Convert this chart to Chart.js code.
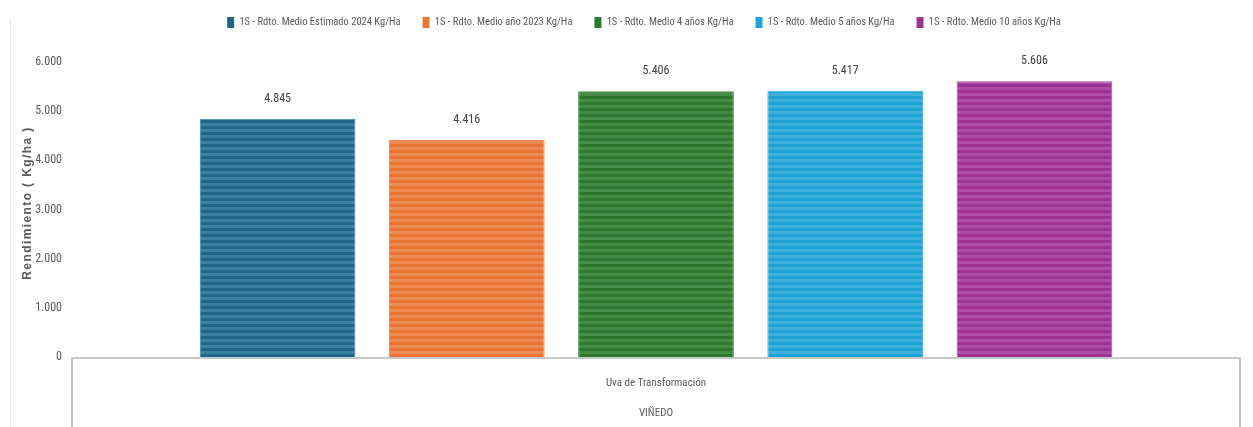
<!DOCTYPE html>
<html>
<head>
<meta charset="utf-8">
<script src="https://cdn.jsdelivr.net/npm/chart.js@4"></script>
<style>
  html, body { margin: 0; padding: 0; background: #fff; }
  #wrap { width: 1253px; height: 427px; }
</style>
</head>
<body>
<div id="wrap"><canvas id="chart1"></canvas></div>
<script>
// categories (two levels: product / group)
const categories = [['Uva de Transformación', 'VIÑEDO']];

// series names and values (Kg/Ha)
const seriesNames = [
    '1S - Rdto. Medio Estimado 2024 Kg/Ha',
    '1S - Rdto. Medio año 2023 Kg/Ha',
    '1S - Rdto. Medio 4 años Kg/Ha',
    '1S - Rdto. Medio 5 años Kg/Ha',
    '1S - Rdto. Medio 10 años Kg/Ha'
];
const rdto2024 = [4845];
const rdto2023 = [4416];
const rdto4 = [5406];
const rdto5 = [5417];
const rdto10 = [5606];

// y axis ticks
const yMin = 0;
const yMax = 6000;
const yStep = 1000;

// colours: dark stripe / light stripe
const darkColors = ['#1f6688', '#ea7432', '#2a792d', '#1fa2d6', '#9e3295'];
const lightColors = ['#3b80a0', '#ee8a53', '#468c49', '#3eb0dc', '#ad4ca5'];

// condensed face, closest to the original
const FONT = "'Roboto Condensed', 'DejaVu Sans Condensed', sans-serif";

// 6px horizontal stripes
function stripes(dark, light) {
    const c = document.createElement('canvas');
    c.width = 6;
    c.height = 6;
    const g = c.getContext('2d');
    g.fillStyle = dark;
    g.fillRect(0, 0, 6, 3);
    g.fillStyle = light;
    g.fillRect(0, 3, 6, 3);
    return g.createPattern(c, 'repeat');
}

// 4845 -> 4.845
function fmt(v) {
    return String(v).replace(/\B(?=(\d{3})+(?!\d))/g, '.');
}

const allValues = [rdto2024, rdto2023, rdto4, rdto5, rdto10];

// extra space under the legend, and move it a bit to the right
const legendTweak = {
    id: 'legendTweak',
    beforeInit(chart) {
        const fit = chart.legend.fit;
        chart.legend.fit = function () {
            fit.bind(chart.legend)();
            this.height += 24;
        };
    },
    afterLayout(chart) {
        chart.legend.left += 48;
    }
};

// value labels above the bars + y axis title (letter spaced)
const valueLabels = {
    id: 'valueLabels',
    afterDatasetsDraw(chart) {
        const ctx = chart.ctx;
        ctx.save();
        ctx.font = '12px ' + FONT;
        ctx.fillStyle = '#404040';
        ctx.textAlign = 'center';
        ctx.textBaseline = 'middle';
        chart.data.datasets.forEach((ds, i) => {
            chart.getDatasetMeta(i).data.forEach((bar, j) => {
                ctx.fillText(fmt(ds.data[j]), bar.x, bar.y - 20);
            });
        });
        ctx.translate(28, 203);
        ctx.rotate(-Math.PI / 2);
        ctx.font = "bold 12px 'Liberation Sans', Arial, sans-serif";
        ctx.letterSpacing = '1.4px';
        ctx.fillStyle = '#595959';
        ctx.fillText('Rendimiento ( Kg/ha )', 0, 0);
        ctx.restore();
    }
};

// category box under the plot + faint chart border
const categoryBox = {
    id: 'categoryBox',
    afterDraw(chart) {
        const ctx = chart.ctx;
        const a = chart.chartArea;
        ctx.save();
        ctx.strokeStyle = '#e8e8e8';
        ctx.lineWidth = 1;
        ctx.beginPath();
        ctx.moveTo(10.5, 18);
        ctx.lineTo(10.5, chart.height);
        ctx.stroke();
        ctx.strokeStyle = '#c8c8c8';
        ctx.lineWidth = 2;
        ctx.beginPath();
        ctx.moveTo(a.left, chart.height);
        ctx.lineTo(a.left, a.bottom + 1);
        ctx.lineTo(a.right, a.bottom + 1);
        ctx.lineTo(a.right, chart.height);
        ctx.stroke();
        ctx.restore();
    }
};

const ctx = document.querySelector('#chart1');

const chart = new Chart(ctx, {
    type: 'bar',
    data: {
        labels: categories,
        datasets: seriesNames.map((name, i) => ({
            label: name,
            data: allValues[i],
            backgroundColor: stripes(darkColors[i], lightColors[i]),
            borderColor: lightColors[i],
            borderWidth: 1,
            categoryPercentage: 0.81,
            barPercentage: 0.823
        }))
    },
    options: {
        responsive: true,
        maintainAspectRatio: false,
        animation: false,
        layout: {
            padding: { top: -5, right: 13, bottom: 0, left: 0 }
        },
        plugins: {
            legend: {
                position: 'top',
                labels: {
                    boxWidth: 7,
                    boxHeight: 11,
                    padding: 22,
                    color: '#595959',
                    font: { family: FONT, size: 10.5 },
                    generateLabels(chart) {
                        return chart.data.datasets.map((ds, i) => ({
                            text: ds.label,
                            fillStyle: darkColors[i],
                            strokeStyle: darkColors[i],
                            lineWidth: 0,
                            fontColor: '#595959',
                            datasetIndex: i
                        }));
                    }
                }
            },
            tooltip: { enabled: false }
        },
        scales: {
            x: {
                grid: { display: false, drawTicks: false },
                border: { display: false },
                ticks: {
                    color: '#595959',
                    padding: 11,
                    font: { family: FONT, size: 11, lineHeight: 2.727 }
                },
                afterFit(scale) {
                    scale.height = 70;
                }
            },
            y: {
                min: yMin,
                max: yMax,
                grid: { display: false, drawTicks: false },
                border: { display: false },
                ticks: {
                    stepSize: yStep,
                    padding: 10,
                    color: '#595959',
                    font: { family: FONT, size: 12 },
                    callback: v => fmt(v)
                },
                afterFit(scale) {
                    scale.width = 72;
                }
            }
        }
    },
    plugins: [legendTweak, valueLabels, categoryBox]
});
</script>
</body>
</html>
